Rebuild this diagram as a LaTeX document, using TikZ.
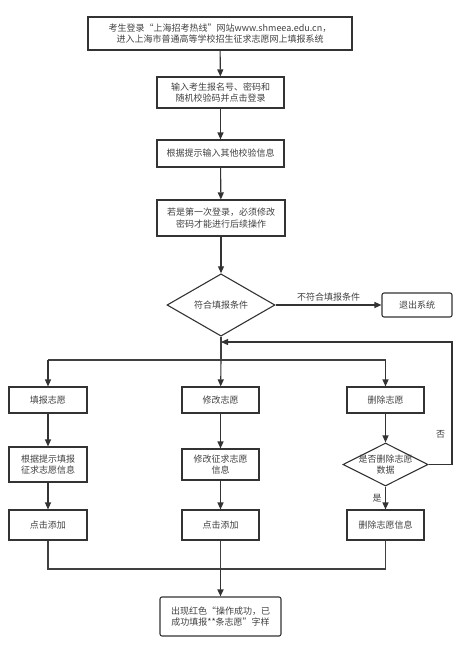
\documentclass[tikz,border=0pt]{standalone}
\usepackage{fontspec}
\setmainfont{Noto Sans CJK SC}
\usetikzlibrary{shapes.geometric, arrows.meta}

\begin{document}
\begin{tikzpicture}[x=1pt, y=-1pt, font=\fontsize{9}{11.5}\selectfont,
        box/.style={draw=black!80, line width=1.1pt, text=black!75, align=center, inner sep=0pt},
        decide/.style={box, diamond},
        flow/.style={draw=black!80, line width=1.1pt, -{Triangle[length=7pt, width=6pt]}},
        link/.style={draw=black!75, line width=1.1pt}]
        \useasboundingbox (0,0) rectangle (468,654);

        % main column
        \node[box, minimum width=264pt, minimum height=33pt] (login) at (220,33.5) {考生登录“上海招考热线”网站www.shmeea.edu.cn，\\进入上海市普通高等学校招生征求志愿网上填报系统};
        \node[box, minimum width=127pt, minimum height=31pt] (enter) at (220.5,92.5) {输入考生报名号、密码和\\随机校验码并点击登录};
        \node[box, minimum width=127pt, minimum height=27pt] (check) at (220.5,153.5) {根据提示输入其他校验信息};
        \node[box, minimum width=128pt, minimum height=36pt] (first) at (221,218) {若是第一次登录，必须修改\\密码才能进行后续操作};
        \node[decide, minimum width=108pt, minimum height=56pt] (cond) at (221,305) {符合填报条件};
        \node[box, rounded corners=2pt, minimum width=70pt, minimum height=24pt] (quit) at (417,305) {退出系统};

        % three branches
        \node[box, minimum width=78pt, minimum height=26pt] (fill) at (48,400) {填报志愿};
        \node[box, minimum width=77pt, minimum height=26pt] (edit) at (220.5,400) {修改志愿};
        \node[box, minimum width=77pt, minimum height=26pt] (del) at (385.5,400) {删除志愿};
        \node[box, minimum width=78pt, minimum height=35pt] (fillinfo) at (48,464.5) {根据提示填报\\征求志愿信息};
        \node[box, minimum width=77pt, minimum height=31pt] (editinfo) at (220.5,464.5) {修改征求志愿\\信息};
        \node[decide, minimum width=85pt, minimum height=43pt] (ask) at (385.5,464.5) {};
        \node[text=black!75, align=center, inner sep=0pt] (asktext) at (ask) {是否删除志愿\\数据};
        \node[box, minimum width=78pt, minimum height=30pt] (filladd) at (48,525) {点击添加};
        \node[box, minimum width=77pt, minimum height=30pt] (editadd) at (220.5,525) {点击添加};
        \node[box, minimum width=77pt, minimum height=30pt] (delinfo) at (385.5,525) {删除志愿信息};
        \node[box, rounded corners=2pt, minimum width=121pt, minimum height=39pt] (done) at (220.5,616.5) {出现红色“操作成功，已\\成功填报**条志愿”字样};

        \coordinate (split) at (221,360);
        \coordinate (back) at (221,342);
        \coordinate (merge) at (220.5,569);

        \draw[flow] (login) -- (enter);
        \draw[flow] (enter) -- (check);
        \draw[flow] (check) -- (first);
        \draw[flow] (first) -- (cond);
        \draw[flow] (cond.east) -- node[above, text=black!75] {不符合填报条件} (quit.west);

        \draw[link] (cond.south) -- (split);
        \draw[link] (fill.north |- split) -- (del.north |- split);
        \draw[flow] (fill.north |- split) -- (fill);
        \draw[flow] (split) -- (edit);
        \draw[flow] (del.north |- split) -- (del);

        \draw[flow] (fill) -- (fillinfo);
        \draw[flow] (fillinfo) -- (filladd);
        \draw[flow] (edit) -- (editinfo);
        \draw[flow] (editinfo) -- (editadd);
        \draw[flow] (del) -- (ask);
        \draw[flow] (ask) -- node[left, text=black!75] {是} (delinfo);
        \draw[flow] (ask.east) -- (452,464.5) -- node[pos=0.25, left=3pt, text=black!75] {否} (452,342) -- (back);

        \draw[link] (filladd) |- (merge) -| (delinfo);
        \draw[link] (editadd) -- (merge);
        \draw[flow, line width=1.6pt] (merge) -- (done);
\end{tikzpicture}
\end{document}
